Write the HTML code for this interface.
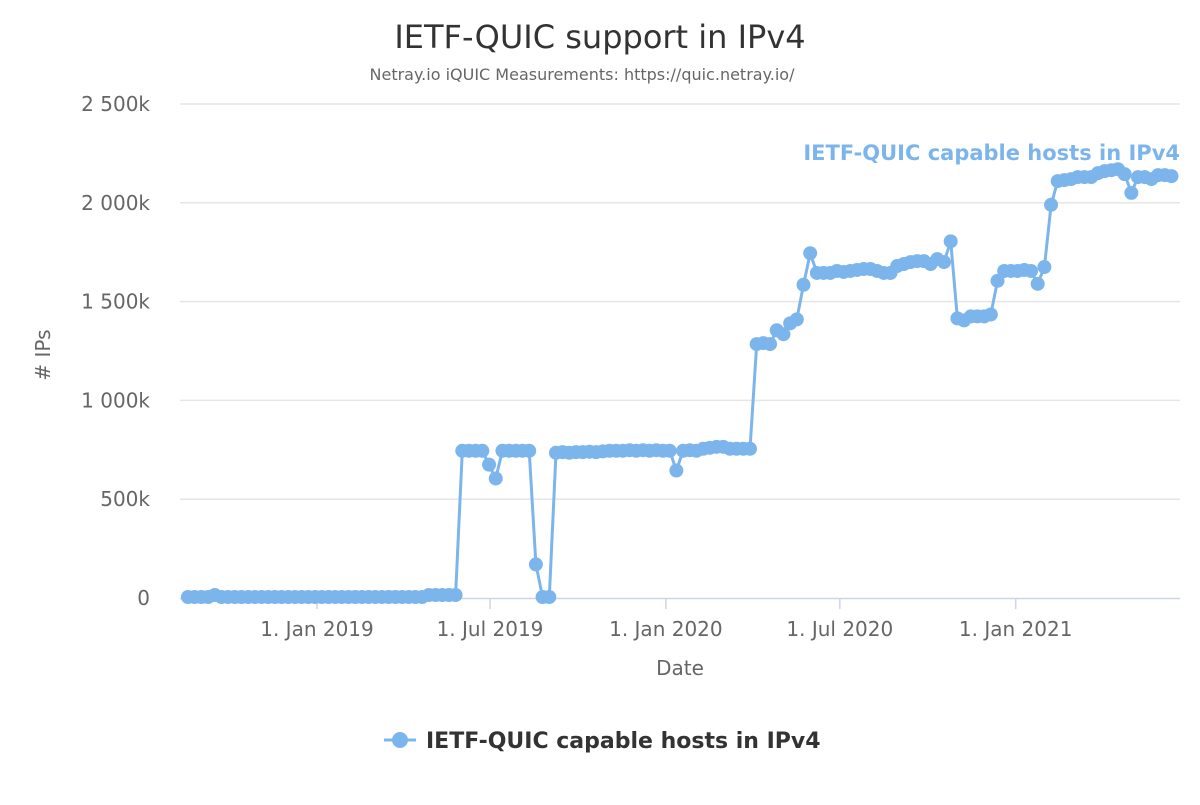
<!DOCTYPE html>
<html><head><meta charset="utf-8"><style>
body{margin:0;background:#fff}
svg text{font-family:"DejaVu Sans","Liberation Sans",sans-serif}
</style></head><body>
<svg id="chart" width="1200" height="800" xmlns="http://www.w3.org/2000/svg">
<text x="600" y="48" text-anchor="middle" font-size="32" fill="#333">IETF-QUIC support in IPv4</text>
<text x="582" y="80" text-anchor="middle" font-size="16" fill="#666">Netray.io iQUIC Measurements: https://quic.netray.io/</text>
<g id="grid"></g>
<g id="ylabels"></g>
<g id="xaxis"></g>
<text x="680" y="675" text-anchor="middle" font-size="20" fill="#666">Date</text>
<text transform="translate(50,355) rotate(-90)" text-anchor="middle" font-size="20" fill="#666"># IPs</text>
<g id="series"></g>
<text x="1180" y="160" text-anchor="end" font-size="21" font-weight="bold" fill="#7cb5ec">IETF-QUIC capable hosts in IPv4</text>
<g>
<line x1="384" y1="740" x2="416" y2="740" stroke="#7cb5ec" stroke-width="3"/>
<circle cx="400" cy="740" r="8" fill="#7cb5ec"/>
<text x="426" y="748" font-size="22" font-weight="bold" fill="#333">IETF-QUIC capable hosts in IPv4</text>
</g>
</svg>
<script>
const yTicks=[0,500,1000,1500,2000,2500];
const yTickLabels=["0","500k","1 000k","1 500k","2 000k","2 500k"];
const xTickDates=["2019-01-01","2019-07-01","2020-01-01","2020-07-01","2021-01-01"];
const xTickLabels=["1. Jan 2019","1. Jul 2019","1. Jan 2020","1. Jul 2020","1. Jan 2021"];
const startDate="2018-08-19";
const stepDays=7;
const values=[5,5,5,5,15,5,5,5,5,5,5,5,5,5,5,5,5,5,5,5,5,5,5,5,5,5,5,5,5,5,5,5,5,5,5,5,15,15,15,15,15,
745,745,745,745,675,605,745,745,745,745,745,170,5,5,
735,738,735,738,738,740,738,742,745,745,745,748,745,748,745,748,745,745,
645,
745,748,745,755,760,765,765,755,755,755,755,
1285,1290,1285,1355,1335,1390,1410,1585,1745,
1645,1645,1645,1655,1650,1655,1660,1665,1665,1655,1645,1645,1680,1690,1700,1705,1705,1690,1715,1700,
1805,1415,1405,1425,1425,1425,1435,1605,1655,1655,1655,1660,1655,1590,1675,1990,
2110,2115,2120,2130,2130,2130,2150,2160,2165,2170,2145,2050,2130,2130,2120,2140,2140,2135];
const NS="http://www.w3.org/2000/svg";
const day0=Date.UTC(2019,0,1);
function dayOf(s){const p=s.split('-');return (Date.UTC(+p[0],+p[1]-1,+p[2])-day0)/864e5;}
function xs(d){return 317+d*0.9558;}
function ys(v){return 598-v*(494/2500);}
function mk(tag,attrs,parent){const e=document.createElementNS(NS,tag);for(const k in attrs)e.setAttribute(k,attrs[k]);parent.appendChild(e);return e;}
const grid=document.getElementById('grid'),yl=document.getElementById('ylabels'),xa=document.getElementById('xaxis'),se=document.getElementById('series');
yTicks.forEach((t,i)=>{
 if(i>0){const l=mk('line',{x1:180,x2:1180,y1:ys(t),y2:ys(t),stroke:'#e6e6e6','stroke-width':1.5},grid);
 
 }
 const tx=mk('text',{x:150,y:ys(t)+7,'text-anchor':'end','font-size':20,fill:'#666'},yl);
 tx.textContent=yTickLabels[i];
 
 
});
const ax=mk('line',{x1:180,x2:1180,y1:598.5,y2:598.5,stroke:'#ccd6eb','stroke-width':1.5},xa);


xTickDates.forEach((d,i)=>{
 const x=xs(dayOf(d));
 const tk=mk('line',{x1:x,x2:x,y1:598,y2:609,stroke:'#ccd6eb','stroke-width':1.5},xa);
 
 
 const tx=mk('text',{x:x,y:636,'text-anchor':'middle','font-size':20,fill:'#666'},xa);
 tx.textContent=xTickLabels[i];
 
 
});
const d0=dayOf(startDate);
const pts=values.map((v,i)=>[xs(d0+i*stepDays),ys(v)]);
const path=mk('path',{d:'M'+pts.map(p=>p[0].toFixed(1)+','+p[1].toFixed(1)).join('L'),fill:'none',stroke:'#7cb5ec','stroke-width':3,'stroke-linejoin':'round'},se);


pts.forEach(p=>{
 const c=mk('circle',{cx:p[0],cy:p[1],r:7,fill:'#7cb5ec'},se);
 
 
});
</script>
</body></html>
